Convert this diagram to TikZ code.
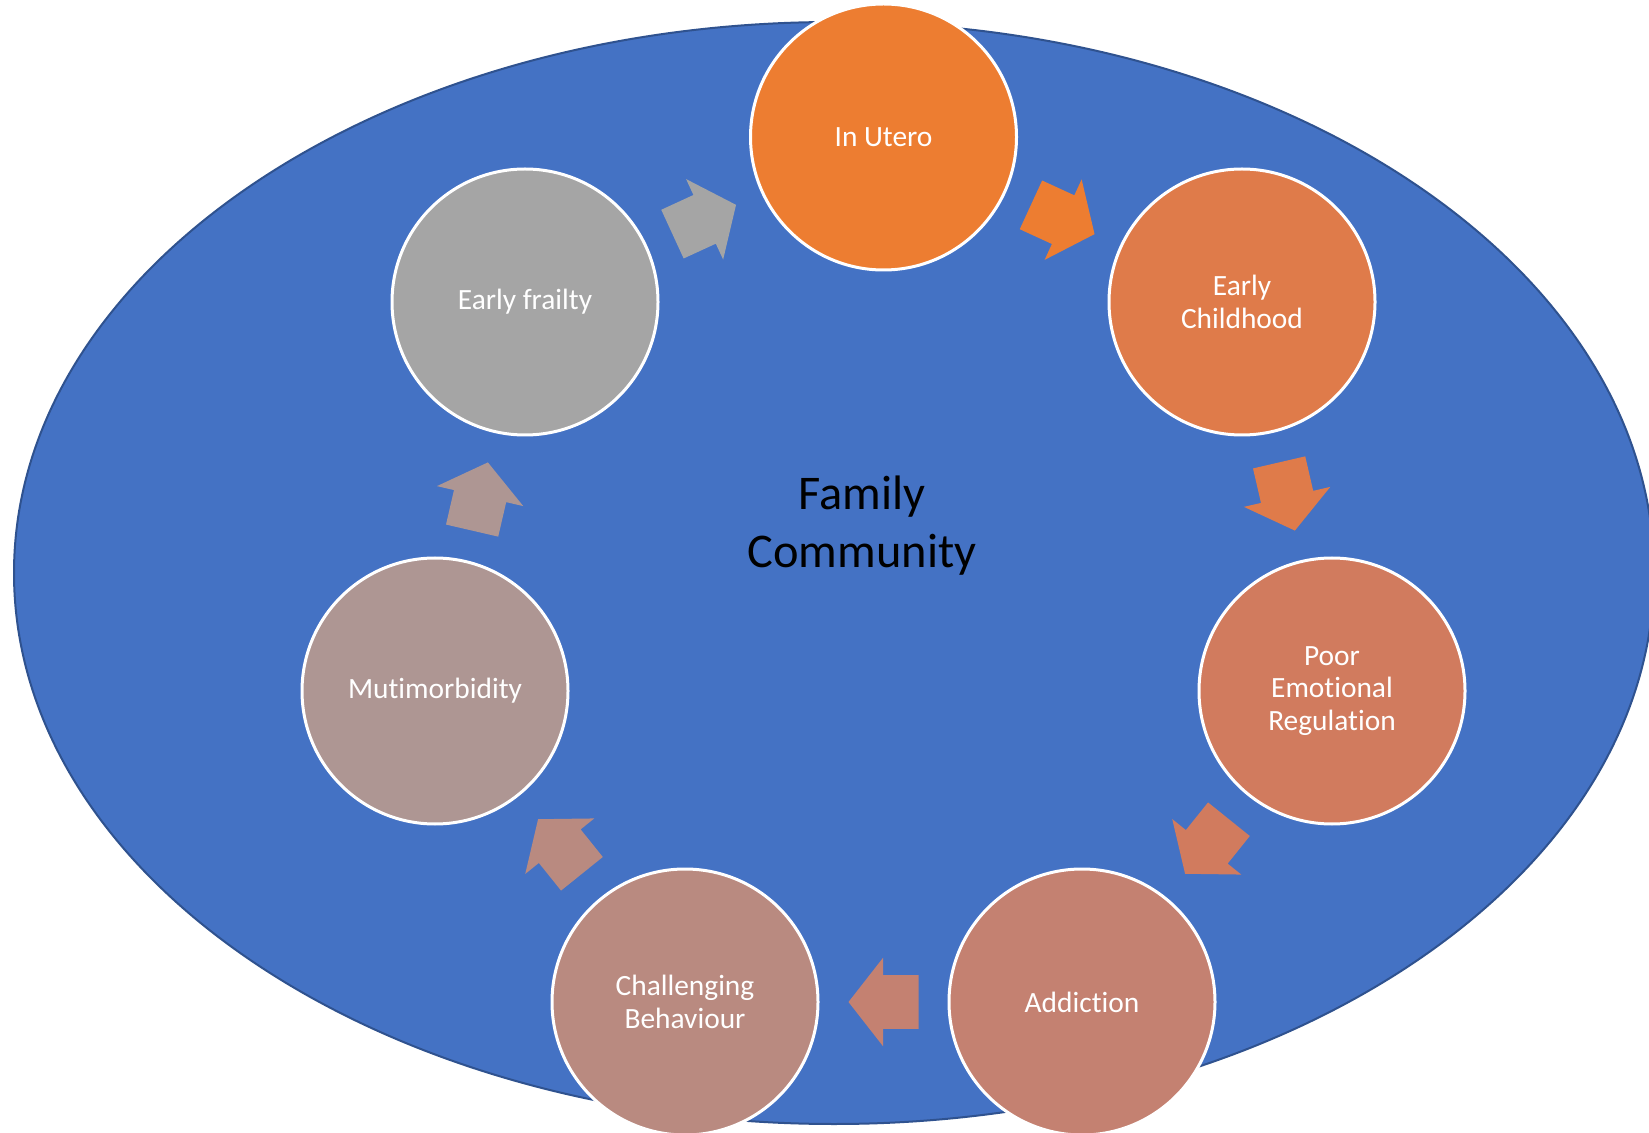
\documentclass[tikz,border=0pt]{standalone}
\usepackage{fontspec}
\setmainfont{Carlito}[Ligatures=NoCommon]
\usetikzlibrary{calc}
\definecolor{bg}{HTML}{4472C4}
\definecolor{bgline}{HTML}{2F528F}
\definecolor{cA}{HTML}{ED7D31}
\definecolor{cB}{HTML}{DF7B4A}
\definecolor{cC}{HTML}{D17B5E}
\definecolor{cD}{HTML}{C48171}
\definecolor{cE}{HTML}{B98A80}
\definecolor{cF}{HTML}{AE9693}
\definecolor{cG}{HTML}{A5A5A5}
\newcommand\cycarr[3]{\path let \p1=(#1.center), \p2=(#2.center), \n1={atan2(\y2-\y1,\x2-\x1)} in ($(#1.center)!0.5!(#2.center)$) pic[rotate=\n1] {cycarrow=#3};}
\begin{document}
\begin{tikzpicture}[x=0.5pt,y=-0.5pt,
  stage/.style={circle, minimum size=133pt, inner sep=0pt, draw=white, line width=1.5pt, text=white, align=center, font=\fontsize{14.7}{16.3}\selectfont},
  pics/cycarrow/.style={code={\fill[#1] (-35,-26.8) -- (0.4,-26.8) -- (0.4,-44.3) -- (35,0) -- (0.4,44.3) -- (0.4,26.8) -- (-35,26.8) -- cycle;}}
]
\useasboundingbox (0,0) rectangle (1649,1133);
\fill[white] (0,0) rectangle (1649,1133);
\clip (0,0) rectangle (1649,1133);
\draw[fill=bg, draw=bgline, line width=1pt] (834,573) ellipse [x radius=820, y radius=551];
\node[font=\fontsize{24.2}{29}\selectfont, align=center, inner sep=0pt, text=black] (fam) at (862,526) {Family\\Community};
\node[stage, fill=cA] (iu) at (883.5,137) {In Utero};
\node[stage, fill=cB] (ec) at (1242,302) {Early\\Childhood};
\node[stage, fill=cC] (per) at (1332,691) {Poor\\Emotional\\Regulation};
\node[stage, fill=cD] (add) at (1082,1002) {Addiction};
\node[stage, fill=cE] (cb) at (685,1002) {Challenging\\Behaviour};
\node[stage, fill=cF] (mm) at (435,691) {Mutimorbidity};
\node[stage, fill=cG] (ef) at (525,302) {Early frailty};
\cycarr{ef}{iu}{cG}
\cycarr{iu}{ec}{cA}
\cycarr{ec}{per}{cB}
\cycarr{per}{add}{cC}
\cycarr{add}{cb}{cD}
\cycarr{cb}{mm}{cE}
\cycarr{mm}{ef}{cF}
\end{tikzpicture}
\end{document}
